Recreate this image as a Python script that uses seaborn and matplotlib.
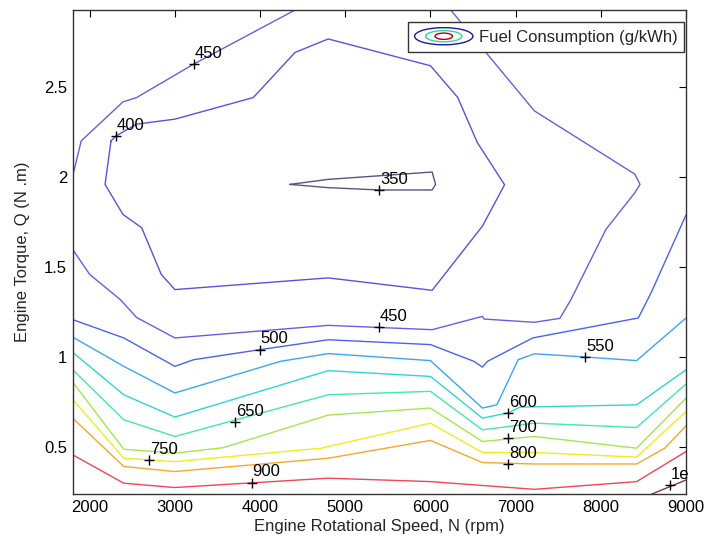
import numpy as np
import pandas as pd
import matplotlib
matplotlib.use("Agg")
import matplotlib.pyplot as plt
import seaborn as sns
from matplotlib.legend_handler import HandlerBase
from matplotlib.patches import Ellipse
from matplotlib.lines import Line2D

# ---------------- data ----------------
# contour polylines: engine speed N (rpm) and torque Q (N.m) per fuel-consumption level (g/kWh)
c350_N = [4350, 4800, 5400, 6020, 6060, 6020, 5400, 4800, 4350]
c350_Q = [1.960, 1.988, 2.008, 2.029, 1.960, 1.929, 1.929, 1.942, 1.960]

c400_N = [2250, 2180, 2390, 2610, 2840, 3000, 4800, 6020, 6610, 6870, 6550, 6320, 6000, 4800, 4410, 3920, 3000, 2550, 2310, 2250]
c400_Q = [2.202, 1.960, 1.793, 1.719, 1.459, 1.375, 1.440, 1.371, 1.728, 1.958, 2.193, 2.444, 2.620, 2.769, 2.694, 2.443, 2.323, 2.295, 2.230, 2.202]

c450a_N = [1800, 1900, 2390, 2550, 3220, 4450]
c450a_Q = [2.007, 2.202, 2.419, 2.443, 2.629, 2.940]

c450b_N = [1800, 2000, 2360, 2550, 3000, 4800, 6020, 6610, 6630, 7220, 7520, 7650, 8060, 8400, 8460, 8400, 7220, 6220]
c450b_Q = [1.598, 1.459, 1.319, 1.220, 1.106, 1.176, 1.152, 1.226, 1.211, 1.193, 1.215, 1.320, 1.710, 1.914, 1.960, 2.017, 2.369, 2.940]

c500_N = [1800, 2400, 3000, 3220, 4000, 4800, 6000, 6510, 6610, 6670, 7200, 8440, 8590, 9000]
c500_Q = [1.208, 1.106, 0.948, 0.985, 1.041, 1.096, 1.069, 0.976, 0.944, 0.976, 1.106, 1.217, 1.357, 1.790]

c550_N = [1800, 2400, 3000, 4240, 4800, 6000, 6610, 6780, 7030, 7220, 7820, 8420, 9000]
c550_Q = [1.111, 0.948, 0.800, 0.976, 1.019, 0.980, 0.716, 0.734, 0.985, 1.018, 1.000, 0.980, 1.217]

c600_N = [1800, 2400, 3000, 4800, 6000, 6610, 6920, 7050, 8420, 9000]
c600_Q = [1.026, 0.790, 0.666, 0.924, 0.892, 0.660, 0.690, 0.721, 0.734, 0.929]

c650_N = [1800, 2400, 3000, 4800, 6000, 6610, 7220, 8420, 9000]
c650_Q = [0.929, 0.651, 0.558, 0.790, 0.809, 0.595, 0.632, 0.608, 0.850]

c700_N = [1800, 2400, 3000, 3570, 4800, 6000, 6610, 7220, 8420, 9000]
c700_Q = [0.860, 0.487, 0.465, 0.496, 0.677, 0.716, 0.530, 0.558, 0.493, 0.771]

c750_N = [1800, 2400, 3000, 4720, 6000, 6610, 7220, 8420, 9000]
c750_Q = [0.764, 0.437, 0.418, 0.493, 0.632, 0.469, 0.469, 0.443, 0.697]

c800_N = [1800, 2400, 3000, 4800, 6000, 6610, 7220, 8420, 8750, 9000]
c800_Q = [0.660, 0.391, 0.363, 0.437, 0.536, 0.413, 0.405, 0.405, 0.493, 0.617]

c900_N = [1800, 2400, 3000, 4800, 6000, 7220, 8420, 9000]
c900_Q = [0.456, 0.298, 0.274, 0.326, 0.307, 0.264, 0.307, 0.474]

c1000_N = [8600, 9000]
c1000_Q = [0.238, 0.316]

# contour label positions
label_text = ["450", "400", "350", "450", "500", "550", "650", "750", "900", "600", "700", "800", "1e"]
label_N = [3220, 2310, 5400, 5400, 4000, 7820, 3710, 2700, 3900, 6915, 6915, 6915, 8810]
label_Q = [2.629, 2.230, 1.929, 1.165, 1.041, 1.000, 0.636, 0.426, 0.301, 0.688, 0.549, 0.405, 0.288]

x_ticks = [2000, 3000, 4000, 5000, 6000, 7000, 8000, 9000]
y_ticks = [0.5, 1.0, 1.5, 2.0, 2.5]
y_tick_labels = ["0.5", "1", "1.5", "2", "2.5"]

# ---------------- build long table ----------------
segments = [
    (350, c350_N, c350_Q), (400, c400_N, c400_Q), (450, c450a_N, c450a_Q),
    (450, c450b_N, c450b_Q), (500, c500_N, c500_Q), (550, c550_N, c550_Q),
    (600, c600_N, c600_Q), (650, c650_N, c650_Q), (700, c700_N, c700_Q),
    (750, c750_N, c750_Q), (800, c800_N, c800_Q), (900, c900_N, c900_Q),
    (1000, c1000_N, c1000_Q),
]
rows = []
for i, (lev, ns, qs) in enumerate(segments):
    for k, (n, q) in enumerate(zip(ns, qs)):
        rows.append({"level": lev, "seg": i, "order": k, "N": n, "Q": q})
df = pd.DataFrame(rows)

# jet-like line colours as they appear in the reference
palette = {
    350: "#55557e", 400: "#5e50dc", 450: "#6a5ce4", 500: "#4b62ee",
    550: "#38a8f2", 600: "#2fd6d8", 650: "#45e8aa", 700: "#a6e650",
    750: "#eeee1e", 800: "#f5a82e", 900: "#f04656", 1000: "#7e3448",
}

# ---------------- figure ----------------
sns.set_style("white")
plt.rcParams["font.family"] = ["Liberation Sans", "DejaVu Sans"]

fig = plt.figure(figsize=(7.07, 5.44), dpi=100)
ax = fig.add_axes([0.1028, 0.0919, 0.8675, 0.8897])

sns.lineplot(data=df, x="N", y="Q", hue="level", units="seg", estimator=None,
             sort=False, palette=palette, legend=False, linewidth=1.0, ax=ax)

sns.scatterplot(x=label_N, y=label_Q, marker="+", color="black", s=45,
                linewidth=1.0, ax=ax, zorder=5)
for t, n, q in zip(label_text, label_N, label_Q):
    ax.annotate(t, (n, q), xytext=(0.5, 4.5), textcoords="offset points",
                ha="left", va="baseline", fontsize=12, color="black")

ax.set_xlim(1800, 9000)
ax.set_ylim(0.238, 2.93)
ax.set_xticks(x_ticks)
ax.set_xticklabels([str(v) for v in x_ticks])
ax.set_yticks(y_ticks)
ax.set_yticklabels(y_tick_labels)
ax.tick_params(direction="in", top=True, right=True, length=5, width=0.8,
               labelsize=12, colors="black", pad=4)
for s in ax.spines.values():
    s.set_color("#333333")
    s.set_linewidth(1.0)

ax.set_xlabel("Engine Rotational Speed, N (rpm)", fontsize=12, labelpad=3)
ax.set_ylabel("Engine Torque, Q (N .m)", fontsize=12, labelpad=10)


class ContourIcon(HandlerBase):
    def create_artists(self, legend, orig_handle, xdescent, ydescent, width,
                       height, fontsize, trans):
        cx = width / 2 - xdescent
        cy = height / 2 - ydescent
        arts = []
        for w, h, c in [(1.0, 1.15, "#1a1a9a"), (0.62, 0.75, "#30d8a0"),
                        (0.3, 0.42, "#b00010")]:
            arts.append(Ellipse((cx, cy), width * w, height * h, fill=False,
                                edgecolor=c, lw=1.0, transform=trans))
        return arts


icon = Line2D([], [])
leg = ax.legend([icon], ["Fuel Consumption (g/kWh)"],
                handler_map={icon: ContourIcon()}, loc="upper right",
                bbox_to_anchor=(0.997, 0.975), borderaxespad=0, fontsize=12,
                fancybox=False, framealpha=1, edgecolor="#333333",
                handlelength=3.5, handleheight=1.0, handletextpad=0.35,
                borderpad=0.4)
leg.get_frame().set_linewidth(1.0)

fig.savefig("out.png", dpi=100)
